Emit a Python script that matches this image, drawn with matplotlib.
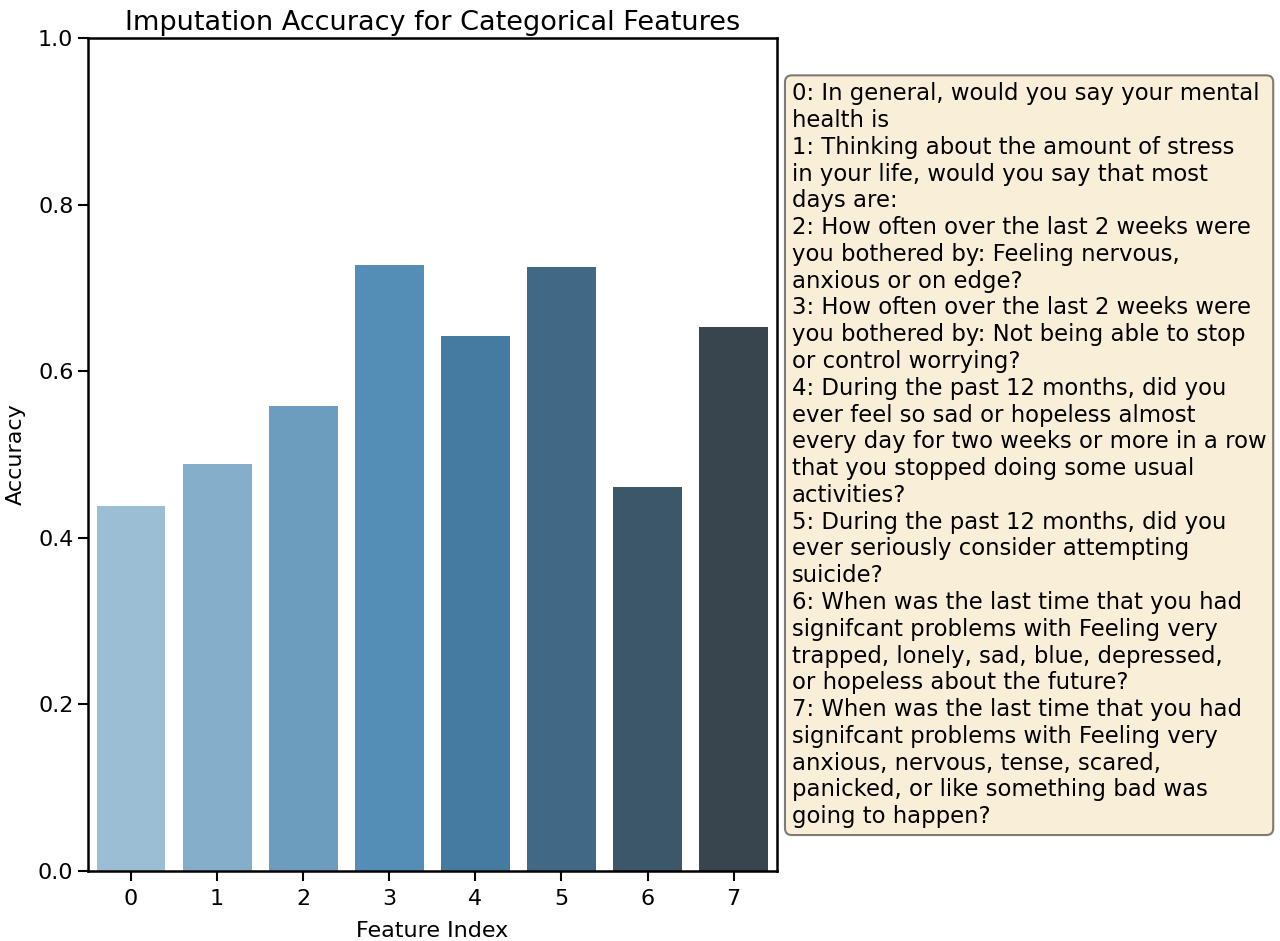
import matplotlib
matplotlib.use("Agg")
import matplotlib.pyplot as plt
import seaborn as sns

feature_index = [0, 1, 2, 3, 4, 5, 6, 7]
accuracy = [0.438, 0.489, 0.558, 0.727, 0.642, 0.725, 0.461, 0.653]

legend_lines = [
    "0: In general, would you say your mental",
    "health is",
    "1: Thinking about the amount of stress",
    "in your life, would you say that most",
    "days are:",
    "2: How often over the last 2 weeks were",
    "you bothered by: Feeling nervous,",
    "anxious or on edge?",
    "3: How often over the last 2 weeks were",
    "you bothered by: Not being able to stop",
    "or control worrying?",
    "4: During the past 12 months, did you",
    "ever feel so sad or hopeless almost",
    "every day for two weeks or more in a row",
    "that you stopped doing some usual",
    "activities?",
    "5: During the past 12 months, did you",
    "ever seriously consider attempting",
    "suicide?",
    "6: When was the last time that you had",
    "signifcant problems with Feeling very",
    "trapped, lonely, sad, blue, depressed,",
    "or hopeless about the future?",
    "7: When was the last time that you had",
    "signifcant problems with Feeling very",
    "anxious, nervous, tense, scared,",
    "panicked, or like something bad was",
    "going to happen?",
]

fs = 16
# seaborn barplot look: Blues_d palette, desaturated to 0.75
colors = [sns.desaturate(c, 0.75) for c in sns.color_palette("Blues_d", len(feature_index))]

fig = plt.figure(figsize=(12.8, 9.41), dpi=100)
ax = fig.add_axes([0.06875, 0.0744, 0.538, 0.8852])
ax.bar(feature_index, accuracy, width=0.8, color=colors)
ax.set_xlim(-0.5, 7.5)
ax.set_ylim(0, 1.0)
ax.set_xticks(feature_index)
ax.tick_params(labelsize=fs, length=7, width=1.5)
ax.tick_params(axis="x", pad=6)
for s in ax.spines.values():
    s.set_linewidth(1.8)
ax.set_title("Imputation Accuracy for Categorical Features", fontsize=19.5)
ax.set_xlabel("Feature Index", fontsize=fs, labelpad=8.5)
ax.set_ylabel("Accuracy", fontsize=fs, labelpad=8.5)

ax.text(1.022, 0.947, "\n".join(legend_lines), transform=ax.transAxes,
        fontsize=16.4, va="top", ha="left", linespacing=1.21,
        bbox=dict(boxstyle="round,pad=0.3", facecolor="wheat", alpha=0.5,
                  edgecolor="black", linewidth=1.5))

fig.savefig("out.png", dpi=100)
